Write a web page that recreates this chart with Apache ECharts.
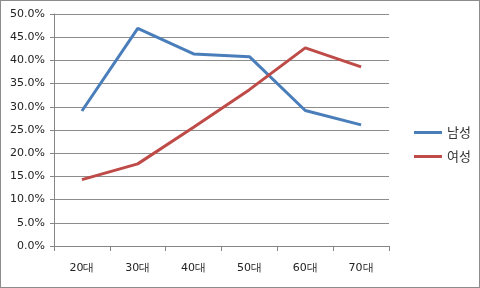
<!DOCTYPE html>
<html><head><meta charset="utf-8">
<script src="https://cdn.jsdelivr.net/npm/echarts@6/dist/echarts.min.js"></script>
<style>html,body{margin:0;padding:0;background:#fff}#c{position:absolute;left:0;top:0;width:478px;height:286px;border:1px solid #8c8c8c}</style>
</head><body><div id="c"></div>
<script>
const categories = ['20대','30대','40대','50대','60대','70대'];
const male = [29.1, 46.9, 41.4, 40.8, 29.2, 26.1];
const female = [14.3, 17.7, 25.6, 33.7, 42.7, 38.6];
const yTicks = {min:0, max:50, interval:5};
const chart = echarts.init(document.getElementById('c'));
chart.setOption({
  animation:false,
  grid:{left:53, top:13, width:335, height:232},
  legend:{orient:'vertical', left:408, top:120, itemGap:11, itemWidth:28, itemHeight:3,
    icon:'rect', textStyle:{fontSize:13, color:'#333', fontFamily:'Noto Sans CJK KR'},
    data:['남성','여성']},
  xAxis:{type:'category', data:categories, boundaryGap:true,
    axisLine:{lineStyle:{color:'#868686'}},
    axisTick:{show:true, length:5, lineStyle:{color:'#868686'}},
    axisLabel:{margin:17, fontSize:11, color:'#222', fontFamily:'DejaVu Sans'}},
  yAxis:{type:'value', min:yTicks.min, max:yTicks.max, interval:yTicks.interval,
    axisLine:{show:true, lineStyle:{color:'#868686'}},
    axisTick:{show:true, length:4, lineStyle:{color:'#868686'}},
    splitLine:{lineStyle:{color:'#8c8c8c'}},
    axisLabel:{margin:9, fontSize:11, color:'#222', fontFamily:'DejaVu Sans',
      formatter:v=>v.toFixed(1)+'%'}},
  series:[
    {name:'남성', type:'line', data:male, symbol:'none', lineStyle:{width:3, color:'#4a7ebb'}, itemStyle:{color:'#4a7ebb'}},
    {name:'여성', type:'line', data:female, symbol:'none', lineStyle:{width:3, color:'#be4b48'}, itemStyle:{color:'#be4b48'}}
  ]
});
</script></body></html>
